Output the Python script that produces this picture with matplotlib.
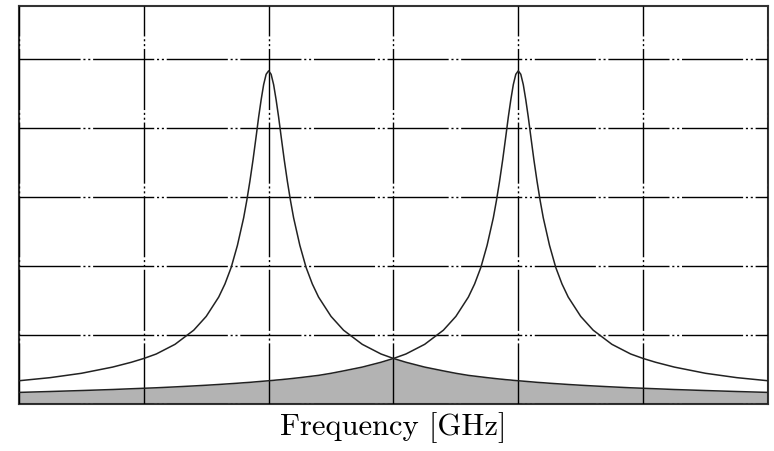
import numpy as np
import matplotlib.pyplot as plt

# frequency axis in grid units (6 divisions across the window)
freq = [0, 0.25, 0.5, 0.75, 0.9, 1.0, 1.1, 1.25, 1.4, 1.5, 1.6, 1.65, 1.7, 1.75,
        1.8, 1.825, 1.85, 1.875, 1.9, 1.92, 1.94, 1.96, 1.98, 2.0, 2.02, 2.04,
        2.06, 2.08, 2.1, 2.125, 2.15, 2.175, 2.2, 2.25, 2.3, 2.35, 2.4, 2.5, 2.6,
        2.75, 2.9, 3.0,
        3.1, 3.25, 3.4, 3.5, 3.6, 3.65, 3.7, 3.75, 3.8, 3.825, 3.85, 3.875, 3.9,
        3.92, 3.94, 3.96, 3.98, 4.0, 4.02, 4.04, 4.06, 4.08, 4.1, 4.125, 4.15,
        4.175, 4.2, 4.25, 4.3, 4.35, 4.4, 4.5, 4.6, 4.75, 4.9, 5.0, 5.1, 5.25,
        5.5, 5.75, 6.0]

# response of the first resonator (peak at 2)
resp1 = [0.337, 0.382, 0.445, 0.535, 0.605, 0.66, 0.725, 0.865, 1.07, 1.27,
         1.55, 1.74, 1.98, 2.30, 2.70, 2.95, 3.23, 3.54, 3.88, 4.16, 4.41, 4.63,
         4.78, 4.83, 4.78, 4.63, 4.41, 4.16, 3.88, 3.54, 3.23, 2.95, 2.70, 2.30,
         1.98, 1.74, 1.55, 1.27, 1.07, 0.865, 0.725, 0.66,
         0.605, 0.535, 0.48, 0.445, 0.415, 0.404, 0.393, 0.382, 0.372, 0.367,
         0.362, 0.358, 0.353, 0.350, 0.347, 0.343, 0.340, 0.337, 0.334, 0.331,
         0.328, 0.325, 0.322, 0.318, 0.314, 0.311, 0.308, 0.301, 0.295, 0.289,
         0.283, 0.272, 0.262, 0.248, 0.235, 0.228, 0.221, 0.210, 0.195, 0.181,
         0.168]

# response of the second resonator (peak at 4)
resp2 = [0.168, 0.181, 0.195, 0.210, 0.221, 0.228, 0.235, 0.248, 0.262, 0.272,
         0.283, 0.289, 0.295, 0.301, 0.308, 0.311, 0.314, 0.318, 0.322, 0.325,
         0.328, 0.331, 0.334, 0.337, 0.340, 0.343, 0.347, 0.350, 0.353, 0.358,
         0.362, 0.367, 0.372, 0.382, 0.393, 0.404, 0.415, 0.445, 0.48, 0.535,
         0.605, 0.66,
         0.725, 0.865, 1.07, 1.27, 1.55, 1.74, 1.98, 2.30, 2.70, 2.95, 3.23,
         3.54, 3.88, 4.16, 4.41, 4.63, 4.78, 4.83, 4.78, 4.63, 4.41, 4.16, 3.88,
         3.54, 3.23, 2.95, 2.70, 2.30, 1.98, 1.74, 1.55, 1.27, 1.07, 0.865,
         0.725, 0.66, 0.605, 0.535, 0.445, 0.382, 0.337]

x_grid = [0, 1, 2, 3, 4, 5, 6]
y_grid = [0, 1, 2, 3, 4, 5]


def main():
    x = np.array(freq)
    y1 = np.array(resp1)
    y2 = np.array(resp2)

    fig = plt.figure(figsize=(7.74, 4.52), dpi=100)
    ax = fig.add_axes([0.0245, 0.104, 0.9677, 0.8805])

    # overlap of the two responses
    ax.fill_between(x, 0, np.minimum(y1, y2), color='#b3b3b3', lw=0, zorder=1)

    ax.set_xticks(x_grid)
    ax.set_yticks(y_grid)
    ax.grid(True, color='black', lw=1.0,
            linestyle=(0, (44, 2, 1.5, 2, 1.5, 2)), zorder=2)
    ax.set_axisbelow(False)

    ax.plot(x, y1, color='#222222', lw=1.1, zorder=3)
    ax.plot(x, y2, color='#222222', lw=1.1, zorder=3)

    ax.set_xlim(0, 6)
    ax.set_ylim(0, 5.77)
    ax.tick_params(length=0, labelbottom=False, labelleft=False)
    for s in ax.spines.values():
        s.set_linewidth(1.5)
        s.set_color('#333333')

    ax.set_xlabel('Frequency [GHz]', fontfamily='cmr10', fontsize=22, labelpad=5)

    fig.savefig('out.png', dpi=100)


if __name__ == "__main__":
    main()
